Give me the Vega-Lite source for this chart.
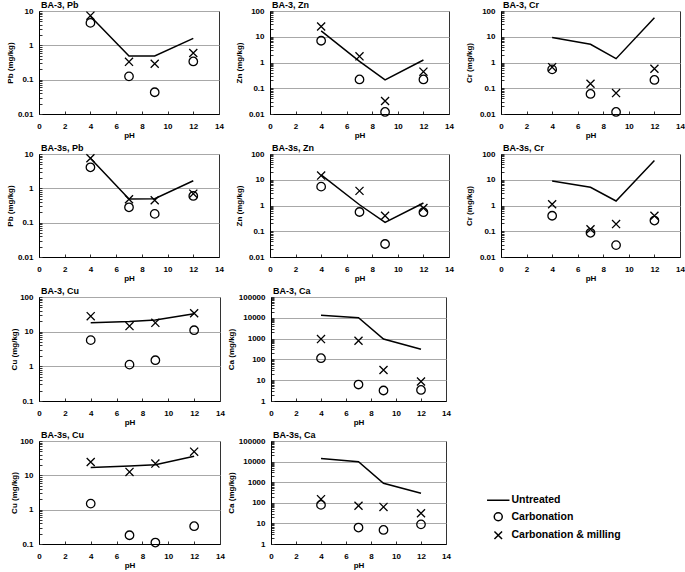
{
  "$schema": "https://vega.github.io/schema/vega-lite/v6.json",
  "padding": {"left": 5, "top": 0, "right": 0, "bottom": 0},
  "background": "white",
  "datasets": {
    "d": [
      {"panel": "BA-3, Pb", "series": "Untreated", "pH": 4, "value": 7.0},
      {"panel": "BA-3, Pb", "series": "Untreated", "pH": 7, "value": 0.49},
      {"panel": "BA-3, Pb", "series": "Untreated", "pH": 9, "value": 0.49},
      {"panel": "BA-3, Pb", "series": "Untreated", "pH": 12, "value": 1.6},
      {"panel": "BA-3, Pb", "series": "Carbonation", "pH": 4, "value": 4.5},
      {"panel": "BA-3, Pb", "series": "Carbonation", "pH": 7, "value": 0.125},
      {"panel": "BA-3, Pb", "series": "Carbonation", "pH": 9, "value": 0.043},
      {"panel": "BA-3, Pb", "series": "Carbonation", "pH": 12, "value": 0.34},
      {"panel": "BA-3, Pb", "series": "Carbonation & milling", "pH": 4, "value": 7.3},
      {"panel": "BA-3, Pb", "series": "Carbonation & milling", "pH": 7, "value": 0.33},
      {"panel": "BA-3, Pb", "series": "Carbonation & milling", "pH": 9, "value": 0.29},
      {"panel": "BA-3, Pb", "series": "Carbonation & milling", "pH": 12, "value": 0.6},

      {"panel": "BA-3, Zn", "series": "Untreated", "pH": 4, "value": 17},
      {"panel": "BA-3, Zn", "series": "Untreated", "pH": 7, "value": 1.1},
      {"panel": "BA-3, Zn", "series": "Untreated", "pH": 9, "value": 0.21},
      {"panel": "BA-3, Zn", "series": "Untreated", "pH": 12, "value": 1.25},
      {"panel": "BA-3, Zn", "series": "Carbonation", "pH": 4, "value": 7.0},
      {"panel": "BA-3, Zn", "series": "Carbonation", "pH": 7, "value": 0.22},
      {"panel": "BA-3, Zn", "series": "Carbonation", "pH": 9, "value": 0.012},
      {"panel": "BA-3, Zn", "series": "Carbonation", "pH": 12, "value": 0.22},
      {"panel": "BA-3, Zn", "series": "Carbonation & milling", "pH": 4, "value": 25},
      {"panel": "BA-3, Zn", "series": "Carbonation & milling", "pH": 7, "value": 1.74},
      {"panel": "BA-3, Zn", "series": "Carbonation & milling", "pH": 9, "value": 0.032},
      {"panel": "BA-3, Zn", "series": "Carbonation & milling", "pH": 12, "value": 0.44},

      {"panel": "BA-3, Cr", "series": "Untreated", "pH": 4, "value": 9.3},
      {"panel": "BA-3, Cr", "series": "Untreated", "pH": 7, "value": 5.1},
      {"panel": "BA-3, Cr", "series": "Untreated", "pH": 9, "value": 1.41},
      {"panel": "BA-3, Cr", "series": "Untreated", "pH": 12, "value": 55},
      {"panel": "BA-3, Cr", "series": "Carbonation", "pH": 4, "value": 0.54},
      {"panel": "BA-3, Cr", "series": "Carbonation", "pH": 7, "value": 0.06},
      {"panel": "BA-3, Cr", "series": "Carbonation", "pH": 9, "value": 0.012},
      {"panel": "BA-3, Cr", "series": "Carbonation", "pH": 12, "value": 0.21},
      {"panel": "BA-3, Cr", "series": "Carbonation & milling", "pH": 4, "value": 0.66},
      {"panel": "BA-3, Cr", "series": "Carbonation & milling", "pH": 7, "value": 0.15},
      {"panel": "BA-3, Cr", "series": "Carbonation & milling", "pH": 9, "value": 0.065},
      {"panel": "BA-3, Cr", "series": "Carbonation & milling", "pH": 12, "value": 0.57},

      {"panel": "BA-3s, Pb", "series": "Untreated", "pH": 4, "value": 7.5},
      {"panel": "BA-3s, Pb", "series": "Untreated", "pH": 7, "value": 0.49},
      {"panel": "BA-3s, Pb", "series": "Untreated", "pH": 9, "value": 0.5},
      {"panel": "BA-3s, Pb", "series": "Untreated", "pH": 12, "value": 1.66},
      {"panel": "BA-3s, Pb", "series": "Carbonation", "pH": 4, "value": 4.1},
      {"panel": "BA-3s, Pb", "series": "Carbonation", "pH": 7, "value": 0.28},
      {"panel": "BA-3s, Pb", "series": "Carbonation", "pH": 9, "value": 0.18},
      {"panel": "BA-3s, Pb", "series": "Carbonation", "pH": 12, "value": 0.6},
      {"panel": "BA-3s, Pb", "series": "Carbonation & milling", "pH": 4, "value": 7.5},
      {"panel": "BA-3s, Pb", "series": "Carbonation & milling", "pH": 7, "value": 0.48},
      {"panel": "BA-3s, Pb", "series": "Carbonation & milling", "pH": 9, "value": 0.45},
      {"panel": "BA-3s, Pb", "series": "Carbonation & milling", "pH": 12, "value": 0.7},

      {"panel": "BA-3s, Zn", "series": "Untreated", "pH": 4, "value": 15.5},
      {"panel": "BA-3s, Zn", "series": "Untreated", "pH": 7, "value": 1.07},
      {"panel": "BA-3s, Zn", "series": "Untreated", "pH": 9, "value": 0.22},
      {"panel": "BA-3s, Zn", "series": "Untreated", "pH": 12, "value": 1.25},
      {"panel": "BA-3s, Zn", "series": "Carbonation", "pH": 4, "value": 5.4},
      {"panel": "BA-3s, Zn", "series": "Carbonation", "pH": 7, "value": 0.56},
      {"panel": "BA-3s, Zn", "series": "Carbonation", "pH": 9, "value": 0.032},
      {"panel": "BA-3s, Zn", "series": "Carbonation", "pH": 12, "value": 0.55},
      {"panel": "BA-3s, Zn", "series": "Carbonation & milling", "pH": 4, "value": 14.5},
      {"panel": "BA-3s, Zn", "series": "Carbonation & milling", "pH": 7, "value": 3.7},
      {"panel": "BA-3s, Zn", "series": "Carbonation & milling", "pH": 9, "value": 0.4},
      {"panel": "BA-3s, Zn", "series": "Carbonation & milling", "pH": 12, "value": 0.8},

      {"panel": "BA-3s, Cr", "series": "Untreated", "pH": 4, "value": 9.0},
      {"panel": "BA-3s, Cr", "series": "Untreated", "pH": 7, "value": 5.1},
      {"panel": "BA-3s, Cr", "series": "Untreated", "pH": 9, "value": 1.5},
      {"panel": "BA-3s, Cr", "series": "Untreated", "pH": 12, "value": 56},
      {"panel": "BA-3s, Cr", "series": "Carbonation", "pH": 4, "value": 0.4},
      {"panel": "BA-3s, Cr", "series": "Carbonation", "pH": 7, "value": 0.087},
      {"panel": "BA-3s, Cr", "series": "Carbonation", "pH": 9, "value": 0.029},
      {"panel": "BA-3s, Cr", "series": "Carbonation", "pH": 12, "value": 0.26},
      {"panel": "BA-3s, Cr", "series": "Carbonation & milling", "pH": 4, "value": 1.12},
      {"panel": "BA-3s, Cr", "series": "Carbonation & milling", "pH": 7, "value": 0.12},
      {"panel": "BA-3s, Cr", "series": "Carbonation & milling", "pH": 9, "value": 0.19},
      {"panel": "BA-3s, Cr", "series": "Carbonation & milling", "pH": 12, "value": 0.4},

      {"panel": "BA-3, Cu", "series": "Untreated", "pH": 4, "value": 18},
      {"panel": "BA-3, Cu", "series": "Untreated", "pH": 7, "value": 19.5},
      {"panel": "BA-3, Cu", "series": "Untreated", "pH": 9, "value": 21.6},
      {"panel": "BA-3, Cu", "series": "Untreated", "pH": 12, "value": 33},
      {"panel": "BA-3, Cu", "series": "Carbonation", "pH": 4, "value": 5.7},
      {"panel": "BA-3, Cu", "series": "Carbonation", "pH": 7, "value": 1.12},
      {"panel": "BA-3, Cu", "series": "Carbonation", "pH": 9, "value": 1.5},
      {"panel": "BA-3, Cu", "series": "Carbonation", "pH": 12, "value": 11},
      {"panel": "BA-3, Cu", "series": "Carbonation & milling", "pH": 4, "value": 28},
      {"panel": "BA-3, Cu", "series": "Carbonation & milling", "pH": 7, "value": 14.5},
      {"panel": "BA-3, Cu", "series": "Carbonation & milling", "pH": 9, "value": 18},
      {"panel": "BA-3, Cu", "series": "Carbonation & milling", "pH": 12, "value": 34},

      {"panel": "BA-3, Ca", "series": "Untreated", "pH": 4, "value": 13400},
      {"panel": "BA-3, Ca", "series": "Untreated", "pH": 7, "value": 10000},
      {"panel": "BA-3, Ca", "series": "Untreated", "pH": 9, "value": 950},
      {"panel": "BA-3, Ca", "series": "Untreated", "pH": 12, "value": 310},
      {"panel": "BA-3, Ca", "series": "Carbonation", "pH": 4, "value": 114},
      {"panel": "BA-3, Ca", "series": "Carbonation", "pH": 7, "value": 6.2},
      {"panel": "BA-3, Ca", "series": "Carbonation", "pH": 9, "value": 3.2},
      {"panel": "BA-3, Ca", "series": "Carbonation", "pH": 12, "value": 3.4},
      {"panel": "BA-3, Ca", "series": "Carbonation & milling", "pH": 4, "value": 950},
      {"panel": "BA-3, Ca", "series": "Carbonation & milling", "pH": 7, "value": 790},
      {"panel": "BA-3, Ca", "series": "Carbonation & milling", "pH": 9, "value": 31},
      {"panel": "BA-3, Ca", "series": "Carbonation & milling", "pH": 12, "value": 8.7},

      {"panel": "BA-3s, Cu", "series": "Untreated", "pH": 4, "value": 17},
      {"panel": "BA-3s, Cu", "series": "Untreated", "pH": 7, "value": 18.8},
      {"panel": "BA-3s, Cu", "series": "Untreated", "pH": 9, "value": 20.5},
      {"panel": "BA-3s, Cu", "series": "Untreated", "pH": 12, "value": 36},
      {"panel": "BA-3s, Cu", "series": "Carbonation", "pH": 4, "value": 1.5},
      {"panel": "BA-3s, Cu", "series": "Carbonation", "pH": 7, "value": 0.18},
      {"panel": "BA-3s, Cu", "series": "Carbonation", "pH": 9, "value": 0.11},
      {"panel": "BA-3s, Cu", "series": "Carbonation", "pH": 12, "value": 0.33},
      {"panel": "BA-3s, Cu", "series": "Carbonation & milling", "pH": 4, "value": 24.5},
      {"panel": "BA-3s, Cu", "series": "Carbonation & milling", "pH": 7, "value": 12.6},
      {"panel": "BA-3s, Cu", "series": "Carbonation & milling", "pH": 9, "value": 22},
      {"panel": "BA-3s, Cu", "series": "Carbonation & milling", "pH": 12, "value": 49},

      {"panel": "BA-3s, Ca", "series": "Untreated", "pH": 4, "value": 14000},
      {"panel": "BA-3s, Ca", "series": "Untreated", "pH": 7, "value": 9900},
      {"panel": "BA-3s, Ca", "series": "Untreated", "pH": 9, "value": 890},
      {"panel": "BA-3s, Ca", "series": "Untreated", "pH": 12, "value": 290},
      {"panel": "BA-3s, Ca", "series": "Carbonation", "pH": 4, "value": 79},
      {"panel": "BA-3s, Ca", "series": "Carbonation", "pH": 7, "value": 6.3},
      {"panel": "BA-3s, Ca", "series": "Carbonation", "pH": 9, "value": 4.8},
      {"panel": "BA-3s, Ca", "series": "Carbonation", "pH": 12, "value": 9},
      {"panel": "BA-3s, Ca", "series": "Carbonation & milling", "pH": 4, "value": 150},
      {"panel": "BA-3s, Ca", "series": "Carbonation & milling", "pH": 7, "value": 72},
      {"panel": "BA-3s, Ca", "series": "Carbonation & milling", "pH": 9, "value": 63},
      {"panel": "BA-3s, Ca", "series": "Carbonation & milling", "pH": 12, "value": 31}
    ]
  },
  "data": {"name": "d"},
  "spacing": 3,
  "columns": 1,
  "align": "none",
  "resolve": {"scale": {"shape": "independent"}, "legend": {"shape": "independent"}},
  "concat": [
    {
      "spacing": 10,
      "hconcat": [
        {
          "width": 180, "height": 103,
          "title": "BA-3, Pb",
          "transform": [{"filter": "datum.panel === 'BA-3, Pb'"}],
          "encoding": {
            "x": {"field": "pH", "type": "quantitative", "scale": {"domain": [0, 14], "nice": false, "zero": false}, "axis": {"title": "pH", "values": [0, 2, 4, 6, 8, 10, 12, 14]}},
            "y": {"field": "value", "type": "quantitative", "scale": {"type": "log", "domain": [0.01, 10], "nice": false},
              "axis": {"title": "Pb (mg/kg)", "format": "~g",
                "values": [0.01,0.02,0.03,0.04,0.05,0.06,0.07,0.08,0.09,0.1,0.2,0.3,0.4,0.5,0.6,0.7,0.8,0.9,1,2,3,4,5,6,7,8,9,10],
                "labelExpr": "abs(log(datum.value)/LN10 - round(log(datum.value)/LN10)) < 0.001 ? datum.label : ''",
                "gridOpacity": {"condition": {"test": "abs(log(datum.value)/LN10 - round(log(datum.value)/LN10)) < 0.001", "value": 1}, "value": 0}}}
          },
          "layer": [
            {"transform": [{"filter": "datum.series === 'Untreated'"}], "mark": {"type": "line", "color": "black", "strokeWidth": 1.5}, "encoding": {}},
            {"transform": [{"filter": "datum.series !== 'Untreated'"}], "mark": {"type": "point", "filled": false, "color": "black", "opacity": 1, "size": 72, "strokeWidth": 1.3},
              "encoding": {"shape": {"field": "series", "type": "nominal", "scale": {"domain": ["Untreated", "Carbonation", "Carbonation & milling"], "range": ["M-2.8,0L2.8,0", "circle", "M-0.95,-0.95L0.95,0.95M-0.95,0.95L0.95,-0.95"]}, "legend": null}}}
          ]
        },
        {
          "width": 179, "height": 103,
          "title": "BA-3, Zn",
          "transform": [{"filter": "datum.panel === 'BA-3, Zn'"}],
          "encoding": {
            "x": {"field": "pH", "type": "quantitative", "scale": {"domain": [0, 14], "nice": false, "zero": false}, "axis": {"title": "pH", "values": [0, 2, 4, 6, 8, 10, 12, 14]}},
            "y": {"field": "value", "type": "quantitative", "scale": {"type": "log", "domain": [0.01, 100], "nice": false},
              "axis": {"title": "Zn (mg/kg)", "format": "~g", "titlePadding": 5,
                "values": [0.01,0.02,0.03,0.04,0.05,0.06,0.07,0.08,0.09,0.1,0.2,0.3,0.4,0.5,0.6,0.7,0.8,0.9,1,2,3,4,5,6,7,8,9,10,20,30,40,50,60,70,80,90,100],
                "labelExpr": "abs(log(datum.value)/LN10 - round(log(datum.value)/LN10)) < 0.001 ? datum.label : ''",
                "gridOpacity": {"condition": {"test": "abs(log(datum.value)/LN10 - round(log(datum.value)/LN10)) < 0.001", "value": 1}, "value": 0}}}
          },
          "layer": [
            {"transform": [{"filter": "datum.series === 'Untreated'"}], "mark": {"type": "line", "color": "black", "strokeWidth": 1.5}, "encoding": {}},
            {"transform": [{"filter": "datum.series !== 'Untreated'"}], "mark": {"type": "point", "filled": false, "color": "black", "opacity": 1, "size": 72, "strokeWidth": 1.3},
              "encoding": {"shape": {"field": "series", "type": "nominal", "scale": {"domain": ["Untreated", "Carbonation", "Carbonation & milling"], "range": ["M-2.8,0L2.8,0", "circle", "M-0.95,-0.95L0.95,0.95M-0.95,0.95L0.95,-0.95"]}, "legend": null}}}
          ]
        },
        {
          "width": 179, "height": 103,
          "title": "BA-3, Cr",
          "transform": [{"filter": "datum.panel === 'BA-3, Cr'"}],
          "encoding": {
            "x": {"field": "pH", "type": "quantitative", "scale": {"domain": [0, 14], "nice": false, "zero": false}, "axis": {"title": "pH", "values": [0, 2, 4, 6, 8, 10, 12, 14]}},
            "y": {"field": "value", "type": "quantitative", "scale": {"type": "log", "domain": [0.01, 100], "nice": false},
              "axis": {"title": "Cr (mg/kg)", "format": "~g", "titlePadding": 6,
                "values": [0.01,0.02,0.03,0.04,0.05,0.06,0.07,0.08,0.09,0.1,0.2,0.3,0.4,0.5,0.6,0.7,0.8,0.9,1,2,3,4,5,6,7,8,9,10,20,30,40,50,60,70,80,90,100],
                "labelExpr": "abs(log(datum.value)/LN10 - round(log(datum.value)/LN10)) < 0.001 ? datum.label : ''",
                "gridOpacity": {"condition": {"test": "abs(log(datum.value)/LN10 - round(log(datum.value)/LN10)) < 0.001", "value": 1}, "value": 0}}}
          },
          "layer": [
            {"transform": [{"filter": "datum.series === 'Untreated'"}], "mark": {"type": "line", "color": "black", "strokeWidth": 1.5}, "encoding": {}},
            {"transform": [{"filter": "datum.series !== 'Untreated'"}], "mark": {"type": "point", "filled": false, "color": "black", "opacity": 1, "size": 72, "strokeWidth": 1.3},
              "encoding": {"shape": {"field": "series", "type": "nominal", "scale": {"domain": ["Untreated", "Carbonation", "Carbonation & milling"], "range": ["M-2.8,0L2.8,0", "circle", "M-0.95,-0.95L0.95,0.95M-0.95,0.95L0.95,-0.95"]}, "legend": null}}}
          ]
        }
      ]
    },
    {
      "spacing": 10,
      "hconcat": [
        {
          "width": 180, "height": 103,
          "title": "BA-3s, Pb",
          "transform": [{"filter": "datum.panel === 'BA-3s, Pb'"}],
          "encoding": {
            "x": {"field": "pH", "type": "quantitative", "scale": {"domain": [0, 14], "nice": false, "zero": false}, "axis": {"title": "pH", "values": [0, 2, 4, 6, 8, 10, 12, 14]}},
            "y": {"field": "value", "type": "quantitative", "scale": {"type": "log", "domain": [0.01, 10], "nice": false},
              "axis": {"title": "Pb (mg/kg)", "format": "~g",
                "values": [0.01,0.02,0.03,0.04,0.05,0.06,0.07,0.08,0.09,0.1,0.2,0.3,0.4,0.5,0.6,0.7,0.8,0.9,1,2,3,4,5,6,7,8,9,10],
                "labelExpr": "abs(log(datum.value)/LN10 - round(log(datum.value)/LN10)) < 0.001 ? datum.label : ''",
                "gridOpacity": {"condition": {"test": "abs(log(datum.value)/LN10 - round(log(datum.value)/LN10)) < 0.001", "value": 1}, "value": 0}}}
          },
          "layer": [
            {"transform": [{"filter": "datum.series === 'Untreated'"}], "mark": {"type": "line", "color": "black", "strokeWidth": 1.5}, "encoding": {}},
            {"transform": [{"filter": "datum.series !== 'Untreated'"}], "mark": {"type": "point", "filled": false, "color": "black", "opacity": 1, "size": 72, "strokeWidth": 1.3},
              "encoding": {"shape": {"field": "series", "type": "nominal", "scale": {"domain": ["Untreated", "Carbonation", "Carbonation & milling"], "range": ["M-2.8,0L2.8,0", "circle", "M-0.95,-0.95L0.95,0.95M-0.95,0.95L0.95,-0.95"]}, "legend": null}}}
          ]
        },
        {
          "width": 179, "height": 103,
          "title": "BA-3s, Zn",
          "transform": [{"filter": "datum.panel === 'BA-3s, Zn'"}],
          "encoding": {
            "x": {"field": "pH", "type": "quantitative", "scale": {"domain": [0, 14], "nice": false, "zero": false}, "axis": {"title": "pH", "values": [0, 2, 4, 6, 8, 10, 12, 14]}},
            "y": {"field": "value", "type": "quantitative", "scale": {"type": "log", "domain": [0.01, 100], "nice": false},
              "axis": {"title": "Zn (mg/kg)", "format": "~g", "titlePadding": 5,
                "values": [0.01,0.02,0.03,0.04,0.05,0.06,0.07,0.08,0.09,0.1,0.2,0.3,0.4,0.5,0.6,0.7,0.8,0.9,1,2,3,4,5,6,7,8,9,10,20,30,40,50,60,70,80,90,100],
                "labelExpr": "abs(log(datum.value)/LN10 - round(log(datum.value)/LN10)) < 0.001 ? datum.label : ''",
                "gridOpacity": {"condition": {"test": "abs(log(datum.value)/LN10 - round(log(datum.value)/LN10)) < 0.001", "value": 1}, "value": 0}}}
          },
          "layer": [
            {"transform": [{"filter": "datum.series === 'Untreated'"}], "mark": {"type": "line", "color": "black", "strokeWidth": 1.5}, "encoding": {}},
            {"transform": [{"filter": "datum.series !== 'Untreated'"}], "mark": {"type": "point", "filled": false, "color": "black", "opacity": 1, "size": 72, "strokeWidth": 1.3},
              "encoding": {"shape": {"field": "series", "type": "nominal", "scale": {"domain": ["Untreated", "Carbonation", "Carbonation & milling"], "range": ["M-2.8,0L2.8,0", "circle", "M-0.95,-0.95L0.95,0.95M-0.95,0.95L0.95,-0.95"]}, "legend": null}}}
          ]
        },
        {
          "width": 179, "height": 103,
          "title": "BA-3s, Cr",
          "transform": [{"filter": "datum.panel === 'BA-3s, Cr'"}],
          "encoding": {
            "x": {"field": "pH", "type": "quantitative", "scale": {"domain": [0, 14], "nice": false, "zero": false}, "axis": {"title": "pH", "values": [0, 2, 4, 6, 8, 10, 12, 14]}},
            "y": {"field": "value", "type": "quantitative", "scale": {"type": "log", "domain": [0.01, 100], "nice": false},
              "axis": {"title": "Cr (mg/kg)", "format": "~g", "titlePadding": 6,
                "values": [0.01,0.02,0.03,0.04,0.05,0.06,0.07,0.08,0.09,0.1,0.2,0.3,0.4,0.5,0.6,0.7,0.8,0.9,1,2,3,4,5,6,7,8,9,10,20,30,40,50,60,70,80,90,100],
                "labelExpr": "abs(log(datum.value)/LN10 - round(log(datum.value)/LN10)) < 0.001 ? datum.label : ''",
                "gridOpacity": {"condition": {"test": "abs(log(datum.value)/LN10 - round(log(datum.value)/LN10)) < 0.001", "value": 1}, "value": 0}}}
          },
          "layer": [
            {"transform": [{"filter": "datum.series === 'Untreated'"}], "mark": {"type": "line", "color": "black", "strokeWidth": 1.5}, "encoding": {}},
            {"transform": [{"filter": "datum.series !== 'Untreated'"}], "mark": {"type": "point", "filled": false, "color": "black", "opacity": 1, "size": 72, "strokeWidth": 1.3},
              "encoding": {"shape": {"field": "series", "type": "nominal", "scale": {"domain": ["Untreated", "Carbonation", "Carbonation & milling"], "range": ["M-2.8,0L2.8,0", "circle", "M-0.95,-0.95L0.95,0.95M-0.95,0.95L0.95,-0.95"]}, "legend": null}}}
          ]
        }
      ]
    },
    {
      "spacing": 1,
      "hconcat": [
        {
          "width": 181, "height": 104,
          "title": "BA-3, Cu",
          "transform": [{"filter": "datum.panel === 'BA-3, Cu'"}],
          "encoding": {
            "x": {"field": "pH", "type": "quantitative", "scale": {"domain": [0, 14], "nice": false, "zero": false}, "axis": {"title": "pH", "values": [0, 2, 4, 6, 8, 10, 12, 14]}},
            "y": {"field": "value", "type": "quantitative", "scale": {"type": "log", "domain": [0.1, 100], "nice": false},
              "axis": {"title": "Cu (mg/kg)", "format": "~g", "titlePadding": 1,
                "values": [0.1,0.2,0.3,0.4,0.5,0.6,0.7,0.8,0.9,1,2,3,4,5,6,7,8,9,10,20,30,40,50,60,70,80,90,100],
                "labelExpr": "abs(log(datum.value)/LN10 - round(log(datum.value)/LN10)) < 0.001 ? datum.label : ''",
                "gridOpacity": {"condition": {"test": "abs(log(datum.value)/LN10 - round(log(datum.value)/LN10)) < 0.001", "value": 1}, "value": 0}}}
          },
          "layer": [
            {"transform": [{"filter": "datum.series === 'Untreated'"}], "mark": {"type": "line", "color": "black", "strokeWidth": 1.5}, "encoding": {}},
            {"transform": [{"filter": "datum.series !== 'Untreated'"}], "mark": {"type": "point", "filled": false, "color": "black", "opacity": 1, "size": 72, "strokeWidth": 1.3},
              "encoding": {"shape": {"field": "series", "type": "nominal", "scale": {"domain": ["Untreated", "Carbonation", "Carbonation & milling"], "range": ["M-2.8,0L2.8,0", "circle", "M-0.95,-0.95L0.95,0.95M-0.95,0.95L0.95,-0.95"]}, "legend": null}}}
          ]
        },
        {
          "width": 175, "height": 104,
          "title": "BA-3, Ca",
          "transform": [{"filter": "datum.panel === 'BA-3, Ca'"}],
          "encoding": {
            "x": {"field": "pH", "type": "quantitative", "scale": {"domain": [0, 14], "nice": false, "zero": false}, "axis": {"title": "pH", "values": [0, 2, 4, 6, 8, 10, 12, 14]}},
            "y": {"field": "value", "type": "quantitative", "scale": {"type": "log", "domain": [1, 100000], "nice": false},
              "axis": {"title": "Ca (mg/kg)", "format": "~g",
                "values": [1,2,3,4,5,6,7,8,9,10,20,30,40,50,60,70,80,90,100,200,300,400,500,600,700,800,900,1000,2000,3000,4000,5000,6000,7000,8000,9000,10000,20000,30000,40000,50000,60000,70000,80000,90000,100000],
                "labelExpr": "abs(log(datum.value)/LN10 - round(log(datum.value)/LN10)) < 0.001 ? datum.label : ''",
                "gridOpacity": {"condition": {"test": "abs(log(datum.value)/LN10 - round(log(datum.value)/LN10)) < 0.001", "value": 1}, "value": 0}}}
          },
          "layer": [
            {"transform": [{"filter": "datum.series === 'Untreated'"}], "mark": {"type": "line", "color": "black", "strokeWidth": 1.5}, "encoding": {}},
            {"transform": [{"filter": "datum.series !== 'Untreated'"}], "mark": {"type": "point", "filled": false, "color": "black", "opacity": 1, "size": 72, "strokeWidth": 1.3},
              "encoding": {"shape": {"field": "series", "type": "nominal", "scale": {"domain": ["Untreated", "Carbonation", "Carbonation & milling"], "range": ["M-2.8,0L2.8,0", "circle", "M-0.95,-0.95L0.95,0.95M-0.95,0.95L0.95,-0.95"]}, "legend": null}}}
          ]
        }
      ]
    },
    {
      "spacing": 1,
      "resolve": {"scale": {"shape": "independent"}, "legend": {"shape": "independent"}},
      "hconcat": [
        {
          "width": 181, "height": 103,
          "title": "BA-3s, Cu",
          "transform": [{"filter": "datum.panel === 'BA-3s, Cu'"}],
          "encoding": {
            "x": {"field": "pH", "type": "quantitative", "scale": {"domain": [0, 14], "nice": false, "zero": false}, "axis": {"title": "pH", "values": [0, 2, 4, 6, 8, 10, 12, 14]}},
            "y": {"field": "value", "type": "quantitative", "scale": {"type": "log", "domain": [0.1, 100], "nice": false},
              "axis": {"title": "Cu (mg/kg)", "format": "~g", "titlePadding": 1,
                "values": [0.1,0.2,0.3,0.4,0.5,0.6,0.7,0.8,0.9,1,2,3,4,5,6,7,8,9,10,20,30,40,50,60,70,80,90,100],
                "labelExpr": "abs(log(datum.value)/LN10 - round(log(datum.value)/LN10)) < 0.001 ? datum.label : ''",
                "gridOpacity": {"condition": {"test": "abs(log(datum.value)/LN10 - round(log(datum.value)/LN10)) < 0.001", "value": 1}, "value": 0}}}
          },
          "layer": [
            {"transform": [{"filter": "datum.series === 'Untreated'"}], "mark": {"type": "line", "color": "black", "strokeWidth": 1.5}, "encoding": {}},
            {"transform": [{"filter": "datum.series !== 'Untreated'"}], "mark": {"type": "point", "filled": false, "color": "black", "opacity": 1, "size": 72, "strokeWidth": 1.3},
              "encoding": {"shape": {"field": "series", "type": "nominal", "scale": {"domain": ["Untreated", "Carbonation", "Carbonation & milling"], "range": ["M-2.8,0L2.8,0", "circle", "M-0.95,-0.95L0.95,0.95M-0.95,0.95L0.95,-0.95"]}, "legend": null}}}
          ]
        },
        {
          "width": 175, "height": 103,
          "title": "BA-3s, Ca",
          "transform": [{"filter": "datum.panel === 'BA-3s, Ca'"}],
          "encoding": {
            "x": {"field": "pH", "type": "quantitative", "scale": {"domain": [0, 14], "nice": false, "zero": false}, "axis": {"title": "pH", "values": [0, 2, 4, 6, 8, 10, 12, 14]}},
            "y": {"field": "value", "type": "quantitative", "scale": {"type": "log", "domain": [1, 100000], "nice": false},
              "axis": {"title": "Ca (mg/kg)", "format": "~g",
                "values": [1,2,3,4,5,6,7,8,9,10,20,30,40,50,60,70,80,90,100,200,300,400,500,600,700,800,900,1000,2000,3000,4000,5000,6000,7000,8000,9000,10000,20000,30000,40000,50000,60000,70000,80000,90000,100000],
                "labelExpr": "abs(log(datum.value)/LN10 - round(log(datum.value)/LN10)) < 0.001 ? datum.label : ''",
                "gridOpacity": {"condition": {"test": "abs(log(datum.value)/LN10 - round(log(datum.value)/LN10)) < 0.001", "value": 1}, "value": 0}}}
          },
          "layer": [
            {"transform": [{"filter": "datum.series === 'Untreated'"}], "mark": {"type": "line", "color": "black", "strokeWidth": 1.5}, "encoding": {}},
            {"transform": [{"filter": "datum.series !== 'Untreated'"}], "mark": {"type": "point", "filled": false, "color": "black", "opacity": 1, "size": 72, "strokeWidth": 1.3},
              "encoding": {"shape": {"field": "series", "type": "nominal", "scale": {"domain": ["Untreated", "Carbonation", "Carbonation & milling"], "range": ["M-2.8,0L2.8,0", "circle", "M-0.95,-0.95L0.95,0.95M-0.95,0.95L0.95,-0.95"]},
                "legend": {"title": null, "orient": "none", "legendX": 222, "legendY": 54, "padding": 0, "symbolSize": 64, "symbolStrokeWidth": 1.5, "symbolStrokeColor": "black", "symbolFillColor": "transparent", "labelFont": "Liberation Sans", "labelFontSize": 10.5, "labelFontWeight": "bold", "labelColor": "black", "labelOffset": 8, "rowPadding": 3.5}}}}
          ]
        }
      ]
    }
  ],
  "config": {
    "font": "Liberation Sans",
    "view": {"stroke": "#333", "strokeWidth": 1},
    "title": {"font": "Liberation Sans", "fontSize": 9, "fontWeight": "bold", "color": "black", "anchor": "start", "frame": "group", "offset": -3, "baseline": "alphabetic", "dx": 2},
    "axis": {"labelFont": "Liberation Sans", "labelFontSize": 8, "labelFontWeight": "bold", "labelColor": "black", "titleFont": "Liberation Sans", "titleFontSize": 8, "titleFontWeight": "bold", "titleColor": "black", "domainColor": "black", "domainWidth": 1, "tickColor": "#333", "tickSize": -3, "tickWidth": 1, "gridColor": "#a8a8a8", "gridWidth": 1.2, "labelOverlap": false, "labelFlush": false, "labelBound": false},
    "axisX": {"grid": false, "labelPadding": 11.2, "titlePadding": 1},
    "axisY": {"grid": true, "labelPadding": 9, "titlePadding": 3}
  }
}
